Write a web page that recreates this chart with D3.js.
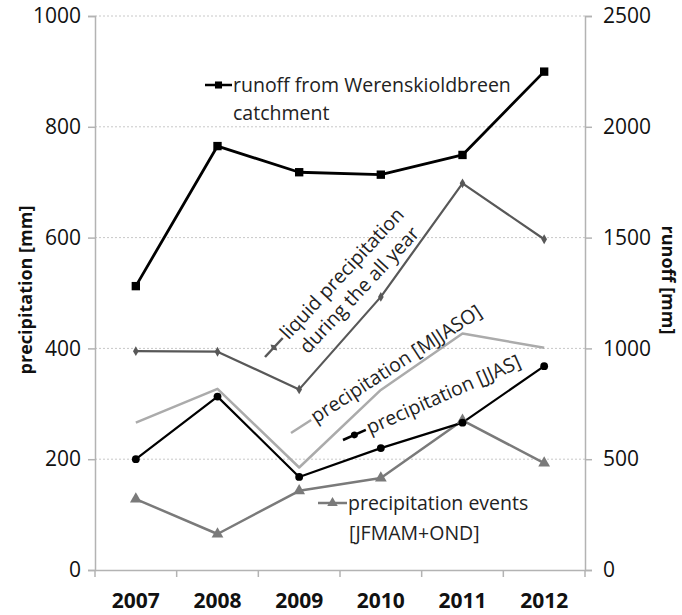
<!DOCTYPE html>
<html>
<head>
<meta charset="utf-8">
<script src="https://cdn.jsdelivr.net/npm/d3@7"></script>
<style>
  html, body { margin: 0; padding: 0; background: #fff; }
  svg { display: block; }
  text { font-family: "Open Sans", "DejaVu Sans", sans-serif; }
</style>
</head>
<body>
<svg id="chart" width="682" height="615"></svg>
<script>
// ---- data ----
const years = ["2007", "2008", "2009", "2010", "2011", "2012"];
const runoff = [1281, 1913, 1795, 1784, 1873, 2249];          // right axis
const liquidAllYear = [395, 394, 326, 493, 698, 597];       // left axis
const precipMJJASO = [266, 327, 185, 325, 427, 401];
const precipJJAS = [200, 313, 168, 220, 266, 368];
const precipEvents = [128, 65, 143, 166, 270, 193];
const leftTicks = [0, 200, 400, 600, 800, 1000];
const rightTicks = [0, 500, 1000, 1500, 2000, 2500];

// ---- layout ----
const svg = d3.select("#chart");
const L = 95, R = 585, T = 16, B = 570;

const x = d3.scaleBand().domain(years).range([L, R]).padding(0);
const yL = d3.scaleLinear().domain([0, 1000]).range([B, T]);
const yR = d3.scaleLinear().domain([0, 2500]).range([B, T]);
const cx = d => x(d) + x.bandwidth() / 2;

// gridlines
svg.append("g").selectAll("line").data(leftTicks.filter(d => d > 0)).join("line")
  .attr("x1", L).attr("x2", R)
  .attr("y1", d => yL(d)).attr("y2", d => yL(d))
  .attr("stroke", "#c8c8c8").attr("stroke-width", 1).attr("stroke-dasharray", "2,2");

// axes
const axisColor = "#b3b3b3";
const gL = svg.append("g").attr("transform", `translate(${L},0)`)
  .call(d3.axisLeft(yL).tickValues(leftTicks).tickFormat(d3.format("d")).tickSize(7).tickPadding(7));
const gR = svg.append("g").attr("transform", `translate(${R},0)`)
  .call(d3.axisRight(yR).tickValues(rightTicks).tickFormat(d3.format("d")).tickSize(7).tickPadding(11));
const gX = svg.append("g").attr("transform", `translate(0,${B})`)
  .call(d3.axisBottom(x).tickSize(0).tickPadding(23));
// category boundary ticks
const bounds = years.map(d => x(d)).concat([R]);
svg.append("g").selectAll("line").data(bounds).join("line")
  .attr("x1", d => d).attr("x2", d => d)
  .attr("y1", B).attr("y2", B + 7)
  .attr("stroke", axisColor).attr("stroke-width", 1.5);

[gL, gR, gX].forEach(g => {
  g.attr("font-family", null).attr("font-size", null);
  g.select(".domain").attr("stroke", axisColor).attr("stroke-width", 1.5);
  g.selectAll(".tick line").attr("stroke", axisColor).attr("stroke-width", 1.5);
  g.selectAll(".tick text").attr("fill", "#111").style("font-size", "21px");
});
gX.selectAll(".tick text").style("font-weight", "bold").style("font-size", "21px");

// axis titles
svg.append("text").attr("transform", `translate(32,290) rotate(-90)`)
  .attr("text-anchor", "middle").style("font-size", "18px").style("font-weight", "bold")
  .attr("fill", "#111").text("precipitation [mm]");
svg.append("text").attr("transform", `translate(662,280) rotate(90)`)
  .attr("text-anchor", "middle").style("font-size", "18px").style("font-weight", "bold")
  .attr("fill", "#111").text("runoff [mm]");

// ---- series ----
function series(values, scale, color, width) {
  const line = d3.line().x((d, i) => cx(years[i])).y(d => scale(d));
  svg.append("path").datum(values).attr("d", line)
    .attr("fill", "none").attr("stroke", color).attr("stroke-width", width)
    .attr("stroke-linejoin", "round");
}
const cRun = "#000", cLiq = "#585858", cMJ = "#ababab", cJJ = "#000", cEv = "#7a7a7a";

series(precipEvents, yL, cEv, 2.5);
series(precipMJJASO, yL, cMJ, 2.5);
series(precipJJAS, yL, cJJ, 2.2);
series(liquidAllYear, yL, cLiq, 2.2);
series(runoff, yR, cRun, 2.8);

const sym = {
  square: d3.symbol().type(d3.symbolSquare).size(70),
  circle: d3.symbol().type(d3.symbolCircle).size(48),
  diamond: d3.symbol().type(d3.symbolDiamond).size(28),
  triangle: d3.symbol().type(d3.symbolTriangle).size(60)
};
function markers(values, scale, s, color) {
  svg.append("g").selectAll("path").data(values).join("path")
    .attr("transform", (d, i) => `translate(${cx(years[i])},${scale(d)})`)
    .attr("d", s).attr("fill", color);
}
markers(precipEvents, yL, sym.triangle, cEv);
markers(precipJJAS, yL, sym.circle, cJJ);
markers(liquidAllYear, yL, sym.diamond, cLiq);
markers(runoff, yR, sym.square, cRun);

// ---- annotations (data labels with legend keys) ----
function label(ox, oy, angle, keyLen, s, color, lines, fontSize) {
  const g = svg.append("g").attr("transform", `translate(${ox},${oy}) rotate(${angle})`);
  g.append("line").attr("x1", 0).attr("x2", keyLen).attr("y1", 0).attr("y2", 0)
    .attr("stroke", color).attr("stroke-width", 2.5);
  if (s) g.append("path").attr("transform", `translate(${keyLen / 2},0)`).attr("d", s).attr("fill", color);
  lines.forEach(l => {
    g.append("text").attr("x", l.x).attr("y", l.y).style("font-size", fontSize + "px")
      .attr("fill", "#222").text(l.t);
  });
}
const fs = 19.5;
label(205, 85, 0, 27, d3.symbol().type(d3.symbolSquare).size(50), "#000",
  [{ x: 28, y: 7, t: "runoff from Werenskioldbreen" }, { x: 28, y: 35, t: "catchment" }], fs);
label(265, 357, -47, 26, d3.symbol().type(d3.symbolDiamond).size(24), cLiq,
  [{ x: 28, y: 6, t: "liquid precipitation" }, { x: 31, y: 30, t: "during the all year" }], fs);
label(291, 433, -33, 24, null, cMJ,
  [{ x: 26, y: 6, t: "precipitation [MJJASO]" }], fs);
label(343, 440, -24, 25, d3.symbol().type(d3.symbolCircle).size(36), "#000",
  [{ x: 27, y: 6, t: "precipitation [JJAS]" }], fs);
label(318, 503, 0, 29, d3.symbol().type(d3.symbolTriangle).size(48), cEv,
  [{ x: 30, y: 7, t: "precipitation events" }, { x: 31, y: 37, t: "[JFMAM+OND]" }], fs);
</script>
</body>
</html>
